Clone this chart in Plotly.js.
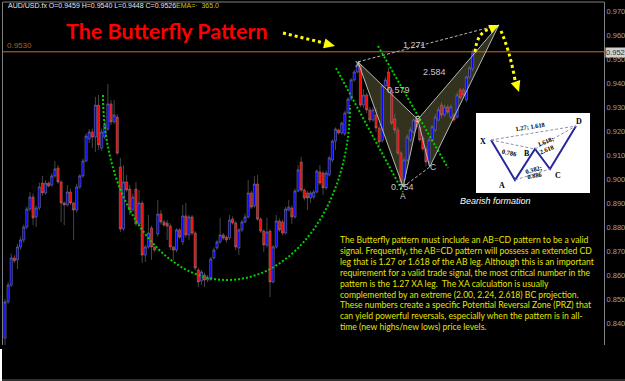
<!DOCTYPE html>
<html><head><meta charset="utf-8">
<script src="https://cdn.plot.ly/plotly-3.0.1.min.js"></script>
<style>html,body{margin:0;padding:0;background:#000;overflow:hidden}#chart{width:625px;height:381px}</style>
</head><body><div id="chart"></div>
<script>
// ---- OHLC data (AUD/USD) ----
const openP = [0.8337,0.8488,0.8558,0.8671,0.8663,0.8717,0.8746,0.8800,0.8875,0.8925,
0.8842,0.8879,0.8983,0.8942,0.8983,0.8975,0.9013,0.9046,0.8988,0.8900,
0.8892,0.8946,0.8900,0.8871,0.8967,0.9013,0.9075,0.9167,0.9196,0.9175,
0.9308,0.9129,0.9175,0.9208,0.9313,0.9238,0.9258,0.9050,0.8792,0.8988,
0.8958,0.8871,0.8958,0.8813,0.8900,0.8683,0.8717,0.8796,0.8717,0.8771,
0.8854,0.8821,0.8817,0.8804,0.8717,0.8704,0.8788,0.8738,0.8846,0.8767,
0.8842,0.8775,0.8621,0.8575,0.8600,0.8579,0.8583,0.8671,0.8713,0.8738,
0.8767,0.8758,0.8754,0.8833,0.8817,0.8713,0.8788,0.8821,0.8842,0.8942,
0.8888,0.8979,0.8833,0.8783,0.8725,0.8783,0.8571,0.8717,0.8825,0.8821,
0.8775,0.8871,0.8879,0.8842,0.8950,0.9071,0.8954,0.8942,0.8921,0.8925,
0.8946,0.9029,0.9025,0.8963,0.9017,0.9079,0.9158,0.9204,0.9192,0.9188,
0.9275,0.9333,0.9413,0.9446,0.9475,0.9308,0.9350,0.9288,0.9246,0.9267,
0.9213,0.9160,0.9388,0.9446,0.9371,0.9250,0.9204,0.9108,0.8996,0.9079,
0.9163,0.9196,0.9246,0.9217,0.9171,0.9125,0.9071,0.9163,0.9204,0.9246,
0.9308,0.9267,0.9300,0.9258,0.9267,0.9258,0.9371,0.9371,0.9329,0.9425,
0.9459];
const highP = [0.8500,0.8570,0.8690,0.8683,0.8730,0.8760,0.8810,0.8885,0.8946,0.8940,
0.8890,0.8985,0.9013,0.8995,0.8990,0.9025,0.9075,0.9058,0.8995,0.8905,
0.8975,0.8960,0.8905,0.8980,0.9020,0.9085,0.9190,0.9208,0.9210,0.9342,
0.9350,0.9210,0.9240,0.9396,0.9329,0.9329,0.9270,0.9088,0.9058,0.9017,
0.8975,0.8940,0.8988,0.8954,0.8910,0.8725,0.8850,0.8805,0.8720,0.8913,
0.8870,0.8830,0.8830,0.8815,0.8720,0.8795,0.8795,0.8892,0.8900,0.8850,
0.8850,0.8783,0.8630,0.8620,0.8610,0.8600,0.8675,0.8715,0.8745,0.8838,
0.8775,0.8765,0.8850,0.8845,0.8825,0.8795,0.8830,0.8855,0.8996,0.8950,
0.9013,0.9017,0.8840,0.8790,0.8838,0.8790,0.8725,0.8850,0.8835,0.8830,
0.8885,0.8913,0.8890,0.8960,0.9058,0.9092,0.8960,0.8950,0.8950,0.8955,
0.9040,0.9058,0.9035,0.9035,0.9095,0.9165,0.9215,0.9210,0.9240,0.9285,
0.9340,0.9420,0.9455,0.9488,0.9480,0.9375,0.9360,0.9300,0.9300,0.9295,
0.9230,0.9395,0.9425,0.9463,0.9380,0.9270,0.9215,0.9115,0.9090,0.9185,
0.9215,0.9252,0.9250,0.9225,0.9180,0.9135,0.9170,0.9225,0.9270,0.9300,
0.9320,0.9310,0.9310,0.9310,0.9275,0.9360,0.9380,0.9380,0.9430,0.9470,
0.9540];
const lowP = [0.8308,0.8480,0.8550,0.8650,0.8625,0.8705,0.8735,0.8790,0.8865,0.8808,
0.8800,0.8870,0.8930,0.8935,0.8965,0.8968,0.9005,0.8980,0.8821,0.8808,
0.8885,0.8890,0.8746,0.8860,0.8958,0.9005,0.9070,0.9150,0.9129,0.9113,
0.9121,0.9117,0.9165,0.9200,0.9225,0.9230,0.9100,0.8779,0.8785,0.8945,
0.8850,0.8865,0.8805,0.8805,0.8650,0.8654,0.8710,0.8663,0.8695,0.8760,
0.8810,0.8800,0.8746,0.8704,0.8663,0.8695,0.8750,0.8725,0.8755,0.8746,
0.8765,0.8620,0.8550,0.8558,0.8550,0.8570,0.8575,0.8665,0.8705,0.8730,
0.8745,0.8735,0.8745,0.8810,0.8704,0.8683,0.8780,0.8815,0.8835,0.8875,
0.8880,0.8825,0.8775,0.8696,0.8715,0.8508,0.8565,0.8710,0.8780,0.8765,
0.8770,0.8865,0.8813,0.8835,0.8945,0.8945,0.8910,0.8871,0.8900,0.8915,
0.8940,0.8975,0.8933,0.8955,0.9010,0.9070,0.9121,0.9185,0.9185,0.9180,
0.9270,0.9325,0.9405,0.9440,0.9300,0.9295,0.9275,0.9235,0.9238,0.9195,
0.9140,0.9150,0.9380,0.9365,0.9225,0.9190,0.9100,0.8970,0.8965,0.9070,
0.9155,0.9190,0.9205,0.9155,0.9115,0.9052,0.9055,0.9155,0.9195,0.9240,
0.9255,0.9260,0.9270,0.9250,0.9240,0.9250,0.9330,0.9340,0.9320,0.9420,
0.9448];
const closeP = [0.8488,0.8558,0.8671,0.8659,0.8717,0.8746,0.8800,0.8875,0.8925,0.8838,
0.8879,0.8967,0.8942,0.8983,0.8971,0.9013,0.9042,0.8988,0.8900,0.8892,
0.8946,0.8900,0.8871,0.8967,0.9013,0.9075,0.9179,0.9196,0.9175,0.9308,
0.9142,0.9196,0.9225,0.9313,0.9238,0.9267,0.9108,0.8792,0.8988,0.8954,
0.8871,0.8925,0.8813,0.8900,0.8683,0.8717,0.8775,0.8717,0.8704,0.8854,
0.8821,0.8808,0.8804,0.8717,0.8704,0.8788,0.8758,0.8846,0.8767,0.8842,
0.8775,0.8629,0.8571,0.8613,0.8579,0.8588,0.8667,0.8704,0.8738,0.8767,
0.8754,0.8746,0.8829,0.8817,0.8717,0.8788,0.8821,0.8842,0.8942,0.8883,
0.8979,0.8833,0.8783,0.8725,0.8779,0.8571,0.8717,0.8825,0.8788,0.8775,
0.8875,0.8883,0.8842,0.8950,0.9038,0.8954,0.8921,0.8921,0.8942,0.8946,
0.9033,0.8983,0.8963,0.9025,0.9088,0.9158,0.9208,0.9192,0.9233,0.9275,
0.9333,0.9413,0.9446,0.9475,0.9308,0.9350,0.9288,0.9246,0.9288,0.9213,
0.9154,0.9388,0.9413,0.9371,0.9233,0.9204,0.9108,0.8988,0.9079,0.9175,
0.9204,0.9246,0.9217,0.9163,0.9125,0.9071,0.9163,0.9217,0.9258,0.9288,
0.9267,0.9300,0.9279,0.9300,0.9246,0.9350,0.9338,0.9350,0.9425,0.9463,
0.9526];

// ---- Butterfly pattern points (bar index, price) ----
const patternLabels = ['X','A','B','C','D'];
const patternIdx = [113.2, 127.7, 132.4, 136.2, 158.4];
const patternPrice = [0.9488, 0.8967, 0.9248, 0.9050, 0.9642];
const ratioLabels = ['0.579','0.754','1.271','2.584'];
const levelPrice = 0.9530;   // orange horizontal line
const bidPrice = 0.9526;
const emaPeriod = '365.0';

// ---- Inset schematic (bearish formation) ----
const insetLabels = ['X','A','B','C','D'];
const insetX = [15, 39, 59, 74, 100];
const insetY = [27, 67, 36, 56, 13];
const insetRatios = ['1.27; 1.618','0.786','1.618;','2.618','0.382;','0.886'];

const textLines = [
'The Butterfly pattern must include an AB=CD pattern to be a valid',
'signal. Frequently, the AB=CD pattern will possess an extended CD',
'leg that is 1.27 or 1.618 of the AB leg. Although this is an important',
'requirement for a valid trade signal, the most critical number in the',
'pattern is the 1.27 XA leg.  The XA calculation is usually',
'complemented by an extreme (2.00, 2.24, 2.618) BC projection.',
'These numbers create a specific Potential Reversal Zone (PRZ) that',
'can yield powerful reversals, especially when the pattern is in all-',
'time (new highs/new lows) price levels.'];

// ---- helpers: pixel -> paper ----
const px = x => (x - 3) / 601;
const py = y => (345 - y) / 343;
const P = (x, y) => px(x) + ',' + py(y);
const D = k => patternIdx[k] + ',' + patternPrice[k];
const last = closeP.length - 1;

const traces = [
 {type:'candlestick', open:openP, high:highP, low:lowP, close:closeP,
  increasing:{line:{color:'#8a8a8a', width:0.5}, fillcolor:'#0000ff'},
  decreasing:{line:{color:'#8a8a8a', width:0.5}, fillcolor:'#ff0000'},
  whiskerwidth:0, hoverinfo:'skip', showlegend:false},
 {type:'scatter', mode:'lines', xaxis:'x2', yaxis:'y2', x:insetX, y:insetY,
  line:{color:'#27279a', width:2}, hoverinfo:'skip'},
 {type:'scatter', mode:'lines', xaxis:'x2', yaxis:'y2',
  x:[insetX[0],insetX[4],null,insetX[0],insetX[2],null,insetX[1],insetX[3],null,insetX[2],insetX[4]],
  y:[insetY[0],insetY[4],null,insetY[0],insetY[2],null,insetY[1],insetY[3],null,insetY[2],insetY[4]],
  line:{color:'#9090aa', width:1, dash:'3px,2px'}, hoverinfo:'skip'}
];

const gray = '#b8b8b8';
const shapes = [
 {type:'path', xref:'x', yref:'y', layer:'below', path:`M ${D(0)} L ${D(1)} L ${D(2)} Z`, fillcolor:'rgba(120,118,72,0.42)', line:{width:0}},
 {type:'path', xref:'x', yref:'y', layer:'below', path:`M ${D(2)} L ${D(3)} L ${D(4)} Z`, fillcolor:'rgba(120,118,72,0.42)', line:{width:0}},
 {type:'rect', xref:'x2', yref:'y2', x0:0, x1:114, y0:0, y1:80, fillcolor:'#ffffff', line:{width:0}, layer:'below'},
 {type:'line', xref:'paper', yref:'y', x0:0, x1:1, y0:levelPrice, y1:levelPrice, line:{color:'#c8701e', width:1}},
 {type:'line', xref:'paper', yref:'paper', x0:0, x1:1, y0:1, y1:1, line:{color:'#808080', width:1}},
 {type:'rect', xref:'paper', yref:'paper', x0:px(0), x1:px(2), y0:py(381), y1:py(349), fillcolor:'#ffffff', line:{width:0}},
 {type:'line', xref:'paper', yref:'paper', x0:px(2), x1:px(625), y0:py(380), y1:py(380), line:{color:'#606060', width:1}},
 {type:'path', xref:'x', yref:'y', path:'M 31.43,0.9350 C 31.43,0.8925 49.23,0.85792 71.20,0.85792 C 93.01,0.85792 110.65,0.89042 110.65,0.93083', line:{color:'#00d000', width:2, dash:'2px,2px'}},
 {type:'line', xref:'x', yref:'y', x0:106.16, y0:0.94625, x1:127.65, y1:0.89458, line:{color:'#00d000', width:2, dash:'2px,2px'}},
 {type:'line', xref:'x', yref:'y', x0:119.63, y0:0.95542, x1:142.08, y1:0.90458, line:{color:'#00d000', width:2, dash:'2px,2px'}},
 {type:'path', xref:'x', yref:'y', path:`M ${D(0)} L ${D(1)} L ${D(2)} Z`, line:{color:gray, width:1}},
 {type:'path', xref:'x', yref:'y', path:`M ${D(2)} L ${D(3)} L ${D(4)} Z`, line:{color:gray, width:1}},
 {type:'path', xref:'x', yref:'y', path:`M ${D(0)} L ${D(4)}`, line:{color:gray, width:1, dash:'3px,2px'}},
 {type:'path', xref:'x', yref:'y', path:`M ${D(1)} L ${D(3)}`, line:{color:gray, width:1, dash:'3px,2px'}},
 {type:'path', xref:'paper', yref:'paper', path:`M ${P(283,33)} L ${P(324,43)}`, line:{color:'#ffff00', width:3, dash:'3px,3px'}},
 {type:'path', xref:'paper', yref:'paper', path:`M ${P(335,46)} L ${P(323.1,48.2)} L ${P(325.5,38.5)} Z`, fillcolor:'#ffff00', line:{width:0}},
 {type:'path', xref:'paper', yref:'paper', path:`M ${P(475,52)} Q ${P(477,32)} ${P(490,29)}`, line:{color:'#ffff00', width:3, dash:'3px,3px'}},
 {type:'path', xref:'paper', yref:'paper', path:`M ${P(499,25)} L ${P(491.7,33.2)} L ${P(488.1,25)} Z`, fillcolor:'#ffff00', line:{width:0}},
 {type:'path', xref:'paper', yref:'paper', path:`M ${P(501,31)} Q ${P(510,52)} ${P(515,80)}`, line:{color:'#ffff00', width:3, dash:'3px,3px'}},
 {type:'path', xref:'paper', yref:'paper', path:`M ${P(519,92)} L ${P(510.8,83.2)} L ${P(520.2,80)} Z`, fillcolor:'#ffff00', line:{width:0}}
];

const ann = [];
const A = o => ann.push(Object.assign({showarrow:false}, o));
A({xref:'paper', yref:'paper', x:px(6), y:py(6), xanchor:'left', yanchor:'middle',
   text:`AUD/USD.fx O=${openP[last].toFixed(4)} H=${highP[last].toFixed(4)} L=${lowP[last].toFixed(4)} C=${closeP[last].toFixed(4)}`,
   font:{family:'Liberation Sans', size:7, color:'#e8e8e8'}});
A({xref:'paper', yref:'paper', x:px(174), y:py(6), xanchor:'left', yanchor:'middle',
   text:'EMA=·  ' + emaPeriod, font:{family:'Liberation Sans', size:7, color:'#c8c800'}});
A({xref:'paper', yref:'paper', x:px(167), y:py(31), xanchor:'center', yanchor:'middle',
   text:'<b>The Butterfly Pattern</b>', font:{family:'Lato', size:21.5, color:'#ff0000'}});
A({xref:'paper', yref:'y', x:px(5), y:levelPrice, yshift:6, xanchor:'left', yanchor:'middle',
   text:levelPrice.toFixed(4), font:{family:'Liberation Sans', size:8, color:'#a86420'}});
A({xref:'paper', yref:'y', x:1, xshift:1, y:bidPrice, xanchor:'left', yanchor:'middle',
   text:bidPrice.toFixed(4).slice(0,5), bgcolor:'#d0d0d0', borderpad:0,
   font:{family:'Liberation Sans', size:7.5, color:'#303030'}});
const lf = {family:'Liberation Sans', size:8.5, color:'#c8c8c8'};
A({x:patternIdx[0], y:patternPrice[0], yshift:-2, text:patternLabels[0], font:lf});
A({x:patternIdx[1], y:patternPrice[1], yshift:-9, text:patternLabels[1], font:lf});
A({x:patternIdx[2], y:patternPrice[2], text:patternLabels[2], font:lf});
A({x:patternIdx[3], y:patternPrice[3], xshift:3, text:patternLabels[3], font:lf});
const rf = {family:'Liberation Sans', size:9, color:'#c8c8c8'};
A({xref:'paper', yref:'paper', x:px(398), y:py(83), text:ratioLabels[0], font:rf});
A({xref:'paper', yref:'paper', x:px(416), y:py(187), text:ratioLabels[1], font:rf});
A({xref:'paper', yref:'paper', x:px(428), y:py(38), text:ratioLabels[2], font:rf});
A({xref:'paper', yref:'paper', x:px(448), y:py(65), text:ratioLabels[3], font:rf});
textLines.forEach((t,k)=>A({xref:'paper', yref:'paper', x:px(338), y:py(240 + k*10.9), xanchor:'left', yanchor:'middle',
   text:t, font:{family:'Lato', size:8.6, color:'#e4e400'}}));
const sf = {family:'Liberation Serif', size:8, color:'#000000'};
const insetLabelPos = [[7,28],[26,72],[51,40],[82,62],[103,8]];
insetLabels.forEach((t,k)=>A({xref:'x2', yref:'y2', x:insetLabelPos[k][0], y:insetLabelPos[k][1], text:'<b>'+t+'</b>', font:sf}));
const rs = {family:'Liberation Serif', size:6.5, color:'#000000'};
const insetRatioPos = [[54,13,-9],[33,39,12],[69,28,-22],[70,36,-22],[57,56,-15],[58,62,-10]];
insetRatios.forEach((t,k)=>A({xref:'x2', yref:'y2', x:insetRatioPos[k][0], y:insetRatioPos[k][1], textangle:insetRatioPos[k][2], text:'<b>'+t+'</b>', font:rs}));
A({xref:'paper', yref:'paper', x:px(533), y:py(201), text:'<i>Bearish formation</i>', font:{family:'Liberation Sans', size:9, color:'#ffffff'}});

const layout = {
 width:625, height:381, margin:{l:3, r:21, t:2, b:36, pad:0},
 paper_bgcolor:'#000000', plot_bgcolor:'#000000', showlegend:false, boxgap:0,
 xaxis:{range:[-0.641,192.11], visible:false, rangeslider:{visible:false}, fixedrange:true},
 yaxis:{range:[0.830833,0.97375], side:'right', showgrid:false, zeroline:false,
   showline:true, mirror:true, linecolor:'#808080', linewidth:1,
   tick0:0.84, dtick:0.01, tickformat:'.3f', ticks:'',
   tickfont:{family:'Liberation Sans', size:7.5, color:'#a0a0a0'}, fixedrange:true},
 xaxis2:{domain:[px(476), px(590)], range:[0,114], visible:false, anchor:'y2', fixedrange:true},
 yaxis2:{domain:[py(193), py(113)], range:[80,0], visible:false, anchor:'x2', fixedrange:true},
 shapes:shapes, annotations:ann
};
Plotly.newPlot('chart', traces, layout, {displayModeBar:false, staticPlot:true});
</script></body></html>
